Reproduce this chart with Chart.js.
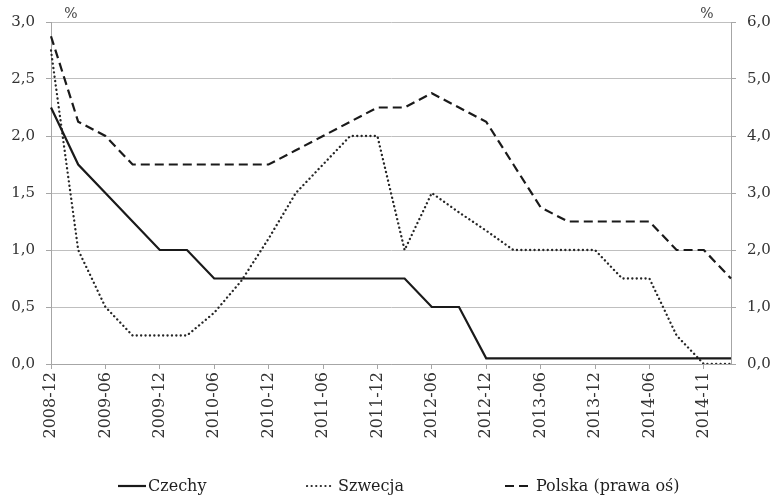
<!DOCTYPE html>
<html>
<head>
<meta charset="utf-8">
<script src="https://cdn.jsdelivr.net/npm/chart.js@4.4.1/dist/chart.umd.min.js"></script>
<style>
body { margin: 0; background: #fff; }
#wrap { position: relative; width: 775px; height: 496px; overflow: hidden; }
.leg { position: absolute; top: 476px; height: 19px; display: flex; align-items: center;
       font: 16px 'DejaVu Serif'; line-height: 19px; color: #1f1f1f; white-space: nowrap; }
</style>
</head>
<body>
<div id="wrap">
  <canvas id="chart" width="775" height="496"></canvas>
  <div class="leg" style="left:118px"><svg width="30" height="4"><line x1="0" y1="2" x2="28" y2="2" stroke="#1a1a1a" stroke-width="2.2"/></svg>Czechy</div>
  <div class="leg" style="left:306px"><svg width="32" height="4"><line x1="1" y1="2" x2="25" y2="2" stroke="#262626" stroke-width="2.2" stroke-dasharray="0.1 4.5" stroke-linecap="round"/></svg>Szwecja</div>
  <div class="leg" style="left:505px"><svg width="31" height="4"><line x1="0" y1="2" x2="23" y2="2" stroke="#1a1a1a" stroke-width="2.2" stroke-dasharray="9 5"/></svg>Polska (prawa oś)</div>
</div>
<script>
// quarterly observations, label shown on every second one
var labels = ['2008-12', '2009-03', '2009-06', '2009-09', '2009-12', '2010-03', '2010-06',
              '2010-09', '2010-12', '2011-03', '2011-06', '2011-09', '2011-12', '2012-03',
              '2012-06', '2012-09', '2012-12', '2013-03', '2013-06', '2013-09', '2013-12',
              '2014-03', '2014-06', '2014-09', '2014-11', '2015-02'];

var czechy = [2.25, 1.75, 1.5, 1.25, 1.0, 1.0, 0.75, 0.75, 0.75, 0.75, 0.75, 0.75, 0.75, 0.75,
              0.5, 0.5, 0.05, 0.05, 0.05, 0.05, 0.05, 0.05, 0.05, 0.05, 0.05, 0.05];

var szwecja = [2.75, 1.0, 0.5, 0.25, 0.25, 0.25, 0.45, 0.73, 1.1, 1.5, 1.75, 2.0, 2.0, 1.0,
               1.5, 1.33, 1.17, 1.0, 1.0, 1.0, 1.0, 0.75, 0.75, 0.25, 0.0, 0.0];

// right axis
var polska = [5.75, 4.25, 4.0, 3.5, 3.5, 3.5, 3.5, 3.5, 3.5, 3.75, 4.0, 4.25, 4.5, 4.5,
              4.75, 4.5, 4.25, 3.5, 2.75, 2.5, 2.5, 2.5, 2.5, 2.0, 2.0, 1.5];

function comma(v) {
    return Number(v).toFixed(1).replace('.', ',');
}

var percentPlugin = {
    id: 'percentLabels',
    afterDraw: function(chart) {
        var ctx = chart.ctx;
        var area = chart.chartArea;
        ctx.save();
        ctx.font = '14px "DejaVu Serif"';
        ctx.fillStyle = '#404040';
        ctx.textAlign = 'center';
        ctx.textBaseline = 'bottom';
        ctx.fillText('%', area.left + 20, area.top - 1);
        ctx.fillText('%', area.right - 24, area.top - 1);
        ctx.restore();
    }
};

var axisGray = '#a6a6a6';
var textGray = '#333333';

new Chart(document.getElementById('chart'), {
    type: 'line',
    data: {
        labels: labels,
        datasets: [{
            label: 'Czechy',
            data: czechy,
            yAxisID: 'y',
            borderColor: '#1a1a1a',
            borderWidth: 2.2,
            pointRadius: 0,
            tension: 0
        }, {
            label: 'Szwecja',
            data: szwecja,
            yAxisID: 'y',
            borderColor: '#262626',
            borderWidth: 2.3,
            borderDash: [0.1, 4.3],
            borderCapStyle: 'round',
            pointRadius: 0,
            tension: 0
        }, {
            label: 'Polska (prawa oś)',
            data: polska,
            yAxisID: 'y1',
            borderColor: '#1a1a1a',
            borderWidth: 2.2,
            borderDash: [9, 5],
            pointRadius: 0,
            tension: 0
        }]
    },
    options: {
        responsive: false,
        animation: false,
        layout: {
            padding: { top: 22, left: 0, right: 0, bottom: 0 }
        },
        plugins: {
            legend: { display: false },
            tooltip: { enabled: false }
        },
        scales: {
            x: {
                type: 'category',
                offset: false,
                grid: {
                    drawOnChartArea: false,
                    drawTicks: true,
                    tickLength: 5,
                    tickColor: function(c) { return c.index % 2 === 0 ? axisGray : 'rgba(0,0,0,0)'; }
                },
                border: { color: axisGray },
                ticks: {
                    autoSkip: false,
                    maxRotation: 90,
                    minRotation: 90,
                    padding: 3,
                    color: textGray,
                    font: { family: 'DejaVu Serif', size: 16 },
                    callback: function(value, index) {
                        return index % 2 === 0 ? this.getLabelForValue(value) : '';
                    }
                },
                afterFit: function(scale) { scale.height = 132; }
            },
            y: {
                position: 'left',
                min: 0,
                max: 3,
                grid: { color: '#bfbfbf', tickLength: 5, tickColor: axisGray },
                border: { color: axisGray },
                ticks: {
                    stepSize: 0.5,
                    padding: 11,
                    color: textGray,
                    font: { family: 'DejaVu Serif', size: 15 },
                    callback: comma
                },
                afterFit: function(scale) { scale.width = 51; }
            },
            y1: {
                position: 'right',
                min: 0,
                max: 6,
                grid: { drawOnChartArea: false, tickLength: 5, tickColor: axisGray },
                border: { color: axisGray },
                ticks: {
                    stepSize: 1,
                    padding: 11,
                    color: textGray,
                    font: { family: 'DejaVu Serif', size: 15 },
                    callback: comma
                },
                afterFit: function(scale) { scale.width = 44; }
            }
        }
    },
    plugins: [percentPlugin]
});
</script>
</body>
</html>
